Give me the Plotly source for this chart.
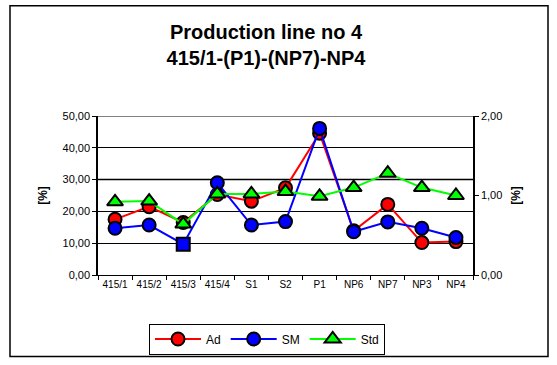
import plotly.graph_objects as go

categories = ["415/1", "415/2", "415/3", "415/4", "S1", "S2", "P1", "NP6", "NP7", "NP3", "NP4"]
ad = [17.5, 21.5, 16.5, 25.3, 23.2, 27.4, 44.6, 13.9, 22.2, 10.2, 10.5]
sm = [14.7, 15.7, 9.7, 29.0, 15.7, 16.8, 46.1, 13.6, 16.7, 14.7, 11.8]
std = [0.92, 0.93, 0.64, 1.02, 1.02, 1.05, 0.99, 1.10, 1.28, 1.10, 1.00]
sm_symbols = ["circle", "circle", "square", "circle", "circle", "circle", "circle", "circle", "circle", "circle", "circle"]

FONT = "Liberation Sans"

fig = go.Figure()
fig.add_trace(go.Scatter(x=categories, y=ad, name="Ad", mode="lines+markers",
                         line=dict(color="#ff0000", width=2),
                         marker=dict(symbol="circle", size=13, color="#ff0000",
                                     line=dict(color="black", width=2))))
fig.add_trace(go.Scatter(x=categories, y=sm, name="SM", mode="lines+markers",
                         line=dict(color="#0000ff", width=2),
                         marker=dict(symbol=sm_symbols, size=13, color="#0000ff",
                                     line=dict(color="black", width=2))))
fig.add_trace(go.Scatter(x=categories, y=std, name="Std", mode="lines+markers", yaxis="y2",
                         line=dict(color="#00ff00", width=2),
                         marker=dict(symbol="triangle-up", size=14, color="#00ff00",
                                     line=dict(color="black", width=2))))

W, H = 557, 365
L, R, T, B = 98, 84, 116, 89
pw = W - L - R
ph = H - T - B

def px2paper_x(px):
    return (px - L) / pw

def px2paper_y(py):
    return (H - B - py) / ph

shapes = [
    dict(type="rect", xref="paper", yref="paper",
         x0=px2paper_x(10), x1=px2paper_x(548), y0=px2paper_y(358), y1=px2paper_y(5),
         line=dict(color="black", width=1.5), fillcolor="rgba(0,0,0,0)", layer="below"),
]
for yv in [30, 50]:
    shapes.append(dict(type="line", xref="paper", yref="y", x0=0, x1=1, y0=yv, y1=yv,
                       line=dict(color="#808080", width=2), layer="below"))

fig.update_layout(
    width=W, height=H,
    margin=dict(l=L, r=R, t=T, b=B),
    paper_bgcolor="white", plot_bgcolor="white",
    separators=",.",
    font=dict(family=FONT, size=11, color="black"),
    title=dict(text="<b>Production line no 4<br>415/1-(P1)-(NP7)-NP4</b>",
               x=266 / W, xref="container", xanchor="center", y=1 - 39 / H, yanchor="middle",
               font=dict(family=FONT, size=20, color="black")),
    xaxis=dict(type="category", showgrid=False, showline=True, linecolor="black", linewidth=1,
               ticks="outside", tickson="boundaries", ticklen=4, tickcolor="black",
               tickangle=0, tickfont=dict(size=10), range=[-0.5, 10.5]),
    yaxis=dict(range=[0, 50], dtick=10, tickformat=".2f", showgrid=True, gridcolor="black",
               gridwidth=1, showline=True, linecolor="black", linewidth=1.5, ticks="outside",
               ticklen=4, tickcolor="black", zeroline=False, tickfont=dict(size=11),
               title=dict(text="<b>[%]</b>", font=dict(size=12), standoff=12)),
    yaxis2=dict(range=[0, 2], dtick=1, tickformat=".2f", overlaying="y", side="right",
                showgrid=False, showline=True, linecolor="black", linewidth=1.5,
                ticks="outside", ticklen=4, tickcolor="black", zeroline=False,
                tickfont=dict(size=11),
                title=dict(text="<b>[%]</b>", font=dict(size=12), standoff=10)),
    legend=dict(orientation="h", x=px2paper_x(267), xanchor="center",
                y=px2paper_y(339), yanchor="middle",
                bordercolor="black", borderwidth=1, bgcolor="white",
                font=dict(size=12), itemwidth=46, tracegroupgap=0),
    shapes=shapes,
    showlegend=True,
)

fig.write_html("out.html")
